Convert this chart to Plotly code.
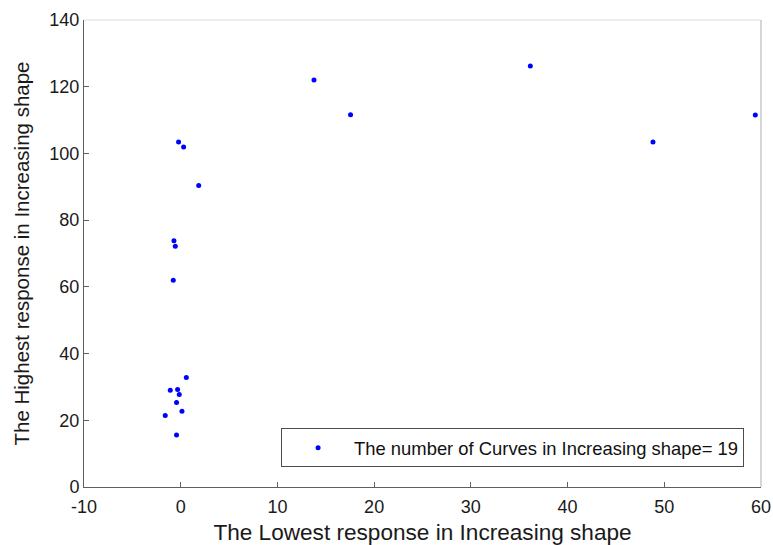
import plotly.graph_objects as go

# Lowest vs highest response of each curve classified as "Increasing"
lowest_response = [13.78, 17.56, 36.15, 48.83, 59.41,
                   -0.22, 0.30, 1.86,
                   -0.70, -0.56, -0.77, 0.58, -1.08, -0.32, -0.15,
                   -0.43, 0.13, -1.60, -0.43]
highest_response = [122.0, 111.6, 126.2, 103.4, 111.5,
                    103.4, 101.9, 90.4,
                    73.8, 72.2, 62.0, 32.8, 29.0, 29.2, 27.7,
                    25.3, 22.7, 21.4, 15.6]

x_ticks = [-10, 0, 10, 20, 30, 40, 50, 60]
y_ticks = [0, 20, 40, 60, 80, 100, 120, 140]

legend_label = f"The number of Curves in Increasing shape= {len(lowest_response)}"

FONT = "Liberation Sans, Arial, sans-serif"
AXIS_COLOR = "#5f5f5f"
FRAME_COLOR = "#dcdcdc"
TEXT_COLOR = "#1a1a1a"

fig = go.Figure()
fig.add_trace(go.Scatter(
    x=lowest_response,
    y=highest_response,
    mode="markers",
    marker=dict(color="#0000ff", size=5, line=dict(width=0)),
    name=legend_label,
    showlegend=True,
))

fig.update_layout(
    width=773,
    height=545,
    margin=dict(l=84, r=12, t=20, b=58),
    paper_bgcolor="white",
    plot_bgcolor="white",
    font=dict(family=FONT, size=18, color=TEXT_COLOR),
    showlegend=True,
    legend=dict(
        x=0.975, xanchor="right",
        y=0.042, yanchor="bottom",
        bgcolor="white",
        bordercolor="#4d4d4d",
        borderwidth=1,
        itemwidth=62,
        font=dict(family=FONT, size=18.4, color="#111111"),
    ),
    xaxis=dict(
        range=[-10, 60],
        tickvals=x_ticks,
        ticktext=[str(v) for v in x_ticks],
        ticks="inside", ticklen=5, tickcolor=AXIS_COLOR,
        ticklabelstandoff=3,
        automargin=False,
        showline=True, linecolor=AXIS_COLOR, linewidth=1,
        showgrid=False, zeroline=False,
        tickfont=dict(size=18, color=TEXT_COLOR),
        title=dict(text="The Lowest response in Increasing shape",
                   font=dict(size=22.6, color=TEXT_COLOR), standoff=11),
    ),
    yaxis=dict(
        range=[0, 140],
        tickvals=y_ticks,
        ticktext=[str(v) for v in y_ticks],
        ticks="inside", ticklen=5, tickcolor=AXIS_COLOR,
        automargin=False,
        showline=True, linecolor=AXIS_COLOR, linewidth=1,
        showgrid=False, zeroline=False,
        tickfont=dict(size=18, color=TEXT_COLOR),
        title=dict(text="The Highest response in Increasing shape",
                   font=dict(size=20.5, color=TEXT_COLOR), standoff=14),
    ),
)

# light upper and right frame lines of the axes box
fig.add_shape(type="line", xref="paper", yref="paper", x0=0, x1=1, y0=1, y1=1,
              line=dict(color=FRAME_COLOR, width=1))
fig.add_shape(type="line", xref="paper", yref="paper", x0=1, x1=1, y0=0, y1=1,
              line=dict(color="#c8c8c8", width=1.5))

fig.write_html("out.html")
